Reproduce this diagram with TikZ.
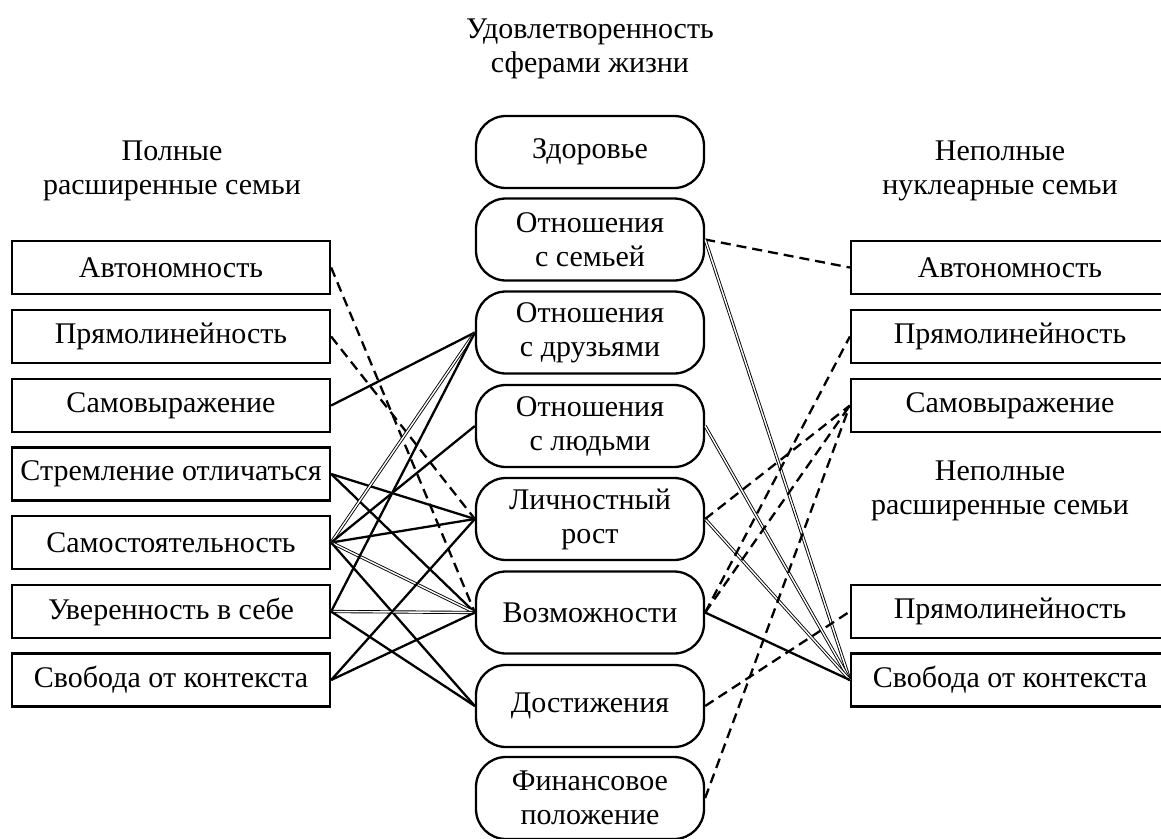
\documentclass[tikz,border=0pt]{standalone}
\usepackage{fontspec}
\setmainfont{Liberation Serif}
\begin{document}
\begin{tikzpicture}[x=1pt,y=-1pt,
  txt/.style={font=\fontsize{30}{34}\selectfont, align=center, inner sep=0pt},
  sqbox/.style={txt, draw, line width=2.3pt, minimum width=318pt, minimum height=53pt},
  rbox/.style={txt, draw, line width=2.3pt, rounded corners=30pt, minimum width=228pt, minimum height=82pt},
  solidc/.style={line width=2.3pt},
  dashc/.style={line width=2.3pt, dash pattern=on 10pt off 6pt},
  dblc/.style={double, line width=0.9pt, double distance=1.4pt}]
\useasboundingbox (0,0) rectangle (1161,838);
% titles
\node[txt] (tmid) at (590,49) {Удовлетворенность\\сферами жизни};
\node[txt] (tleft) at (172,171) {Полные\\расширенные семьи};
\node[txt] (tright1) at (1000,171) {Неполные\\нуклеарные семьи};
\node[txt] (tright2) at (1000,491) {Неполные\\расширенные семьи};
% left boxes
\node[sqbox] (L1) at (171,267.5) {Автономность};
\node[sqbox] (L2) at (171,336.5) {Прямолинейность};
\node[sqbox] (L3) at (171,405.5) {Самовыражение};
\node[sqbox] (L4) at (171,474) {Стремление отличаться};
\node[sqbox] (L5) at (171,542.5) {Самостоятельность};
\node[sqbox] (L6) at (171,611.5) {Уверенность в себе};
\node[sqbox] (L7) at (171,680) {Свобода от контекста};
% middle boxes
\node[rbox, minimum height=72pt] (M0) at (590,152) {Здоровье};
\node[rbox] (M1) at (590,239.5) {Отношения\\с семьей};
\node[rbox] (M2) at (590,332.5) {Отношения\\с друзьями};
\node[rbox] (M3) at (590,426) {Отношения\\с людьми};
\node[rbox] (M4) at (590,519) {Личностный\\рост};
\node[rbox] (M5) at (590,612.5) {Возможности};
\node[rbox] (M6) at (590,706) {Достижения};
\node[rbox] (M7) at (590,798) {Финансовое\\положение};
% right boxes
\node[sqbox] (R1) at (1010,267.5) {Автономность};
\node[sqbox] (R2) at (1010,336.5) {Прямолинейность};
\node[sqbox] (R3) at (1010,405.5) {Самовыражение};
\node[sqbox] (R4) at (1010,611.5) {Прямолинейность};
\node[sqbox] (R5) at (1010,680) {Свобода от контекста};
% left connectors
\draw[dashc] (L1.east) -- (M5.west);
\draw[dashc] (L2.east) -- (M4.west);
\draw[solidc] (L3.east) -- (M2.west);
\draw[solidc] (L4.east) -- (M4.west);
\draw[solidc] (L4.east) -- (M5.west);
\draw[dblc] (L5.east) -- (M2.west);
\draw[solidc] (L5.east) -- (M3.west);
\draw[solidc] (L5.east) -- (M4.west);
\draw[dblc] (L5.east) -- (M5.west);
\draw[solidc] (L5.east) -- (M6.west);
\draw[solidc] (L6.east) -- (M2.west);
\draw[dblc] (L6.east) -- (M5.west);
\draw[solidc] (L6.east) -- (M6.west);
\draw[solidc] (L7.east) -- (M4.west);
\draw[solidc] (L7.east) -- (M5.west);
% right connectors
\draw[dashc] (M1.east) -- (R1.west);
\draw[dblc] (M1.east) -- (R5.west);
\draw[dblc] (M3.east) -- (R5.west);
\draw[dblc] (M4.east) -- (R5.west);
\draw[dashc] (M4.east) -- (R3.west);
\draw[solidc] (M5.east) -- (R5.west);
\draw[dashc] (M5.east) -- (R3.west);
\draw[dashc] (M5.east) -- (R2.west);
\draw[dashc] (M6.east) -- (R4.west);
\draw[dashc] (M7.east) -- (R3.west);
\end{tikzpicture}
\end{document}
